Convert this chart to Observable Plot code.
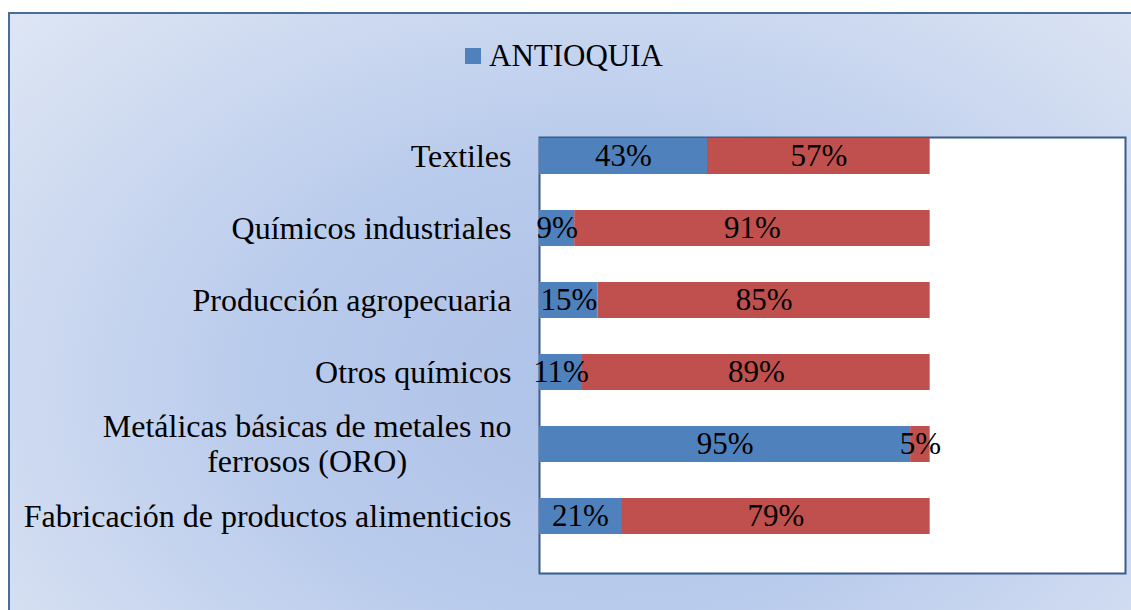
<!DOCTYPE html>
<html>
<head>
<meta charset="utf-8">
<script src="https://cdn.jsdelivr.net/npm/d3@7"></script>
<script src="https://cdn.jsdelivr.net/npm/@observablehq/plot@0.6"></script>
<style>
  body { margin: 0; background: #fff; }
  #wrap { position: relative; width: 1131px; height: 610px; overflow: hidden; background: #fff; }
  #bg { position: absolute; left: 8px; top: 12px; width: 1140px; height: 620px; box-sizing: border-box;
        border: 2px solid #4a6c9b;
        background: radial-gradient(ellipse 75% 95% at 52% 60%, #aec2e8 0%, #b9cbec 40%, #d2ddf1 75%, #e2e9f6 100%); }
  #legend { position: absolute; left: 465px; top: 38px; display: flex; align-items: center;
            font-family: 'Liberation Serif'; font-size: 31px; color: #000; }
  #legend .sw { width: 16px; height: 16px; background: #4f81bd; margin-right: 8px; }
  #chart { position: absolute; left: 0; top: 0; }
  #chart svg text { font-family: 'Liberation Serif'; }
</style>
</head>
<body>
<div id="wrap">
  <div id="bg"></div>
  <div id="legend"><span class="sw"></span><span>ANTIOQUIA</span></div>
  <div id="chart"></div>
</div>
<script>
const categories = [
  "Textiles",
  "Químicos industriales",
  "Producción agropecuaria",
  "Otros químicos",
  "Metálicas básicas de metales no\nferrosos (ORO)",
  "Fabricación de productos alimenticios"
];
const seriesNames = ["ANTIOQUIA", "RESTO"];
const antioquia = [43, 9, 15, 11, 95, 21];
const resto = [57, 91, 85, 89, 5, 79];
const seriesColors = ["#4f81bd", "#c0504d"];

const data = [];
categories.forEach((c, i) => data.push({cat: c, series: seriesNames[0], value: antioquia[i]}));
categories.forEach((c, i) => data.push({cat: c, series: seriesNames[1], value: resto[i]}));

const FONT = "Liberation Serif";
const labelSize = 32;
const valueSize = 31;
const ctx = document.createElement("canvas").getContext("2d");
ctx.font = `${labelSize}px 'Liberation Serif'`;

const gap = 28, lineH = 35;
const labelMarks = [];
categories.forEach(c => {
  const lines = c.split("\n");
  const maxW = Math.max(...lines.map(l => ctx.measureText(l).width));
  lines.forEach((l, i) => {
    labelMarks.push(Plot.text([{cat: c, line: l}], {
      x: () => 0, y: "cat", text: "line",
      textAnchor: "middle",
      dx: -gap - maxW / 2,
      dy: (i - (lines.length - 1) / 2) * lineH,
      fontSize: labelSize, fontFamily: FONT, fill: "#000"
    }));
  });
});

const W = 1131, H = 610;
const mTop = 137, mBottom = 37, mLeft = 539, mRight = 6;

const chart = Plot.plot({
  width: W, height: H,
  marginTop: mTop, marginBottom: mBottom, marginLeft: mLeft, marginRight: mRight,
  style: {background: "transparent", overflow: "visible", fontFamily: FONT},
  x: {domain: [0, 150], axis: null},
  y: {type: "band", domain: categories, range: [mTop, 535], paddingInner: 0.5, paddingOuter: 0, axis: null},
  color: {domain: seriesNames, range: seriesColors},
  marks: [
    Plot.frame({fill: "white", stroke: "#385d8a", strokeWidth: 2}),
    Plot.barX(data, Plot.stackX({x: "value", y: "cat", fill: "series", z: "series"})),
    Plot.text(data, Plot.stackX({x: "value", y: "cat", z: "series", text: d => d.value + "%",
      fontSize: valueSize, fontFamily: FONT, fill: "#000"})),
    ...labelMarks
  ]
});
document.getElementById("chart").appendChild(chart);
</script>
</body>
</html>
